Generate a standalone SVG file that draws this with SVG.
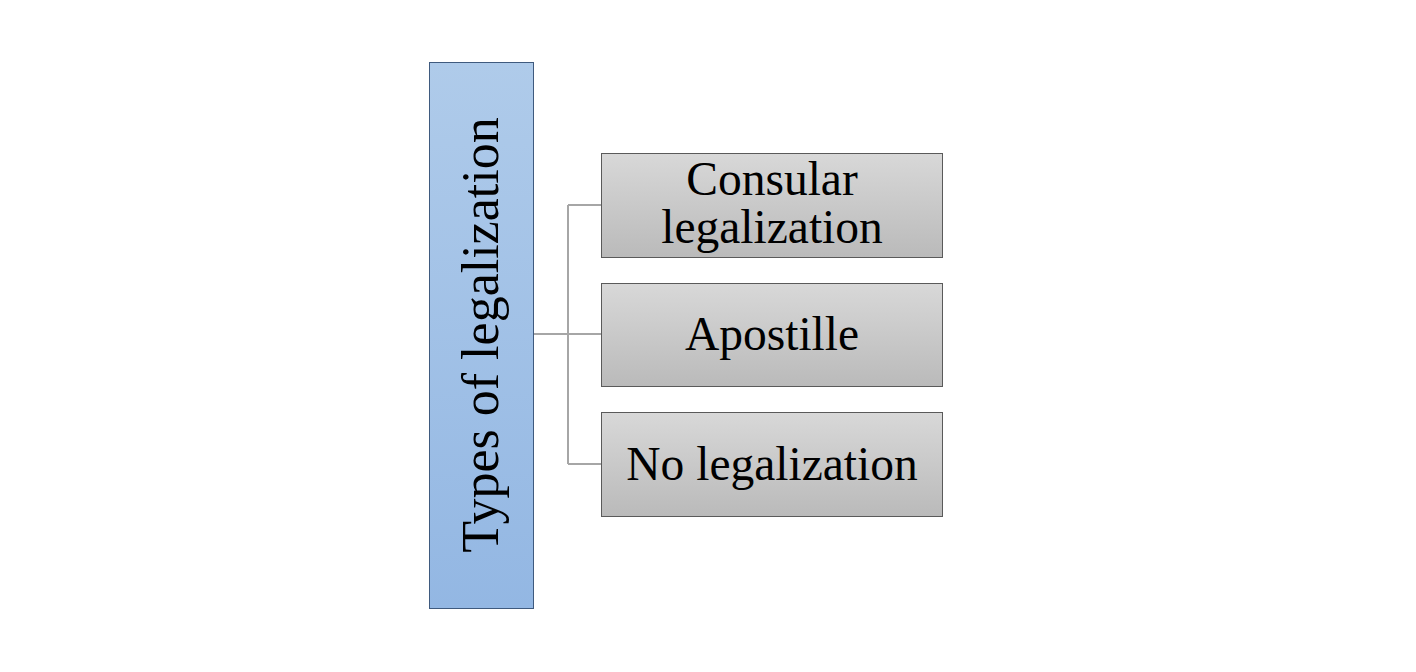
<svg xmlns="http://www.w3.org/2000/svg" width="1416" height="672" viewBox="0 0 1416 672">
<defs>
<linearGradient id="gBlue" x1="0" y1="0" x2="0" y2="1"><stop offset="0" stop-color="#afcbea"/><stop offset="1" stop-color="#93b7e3"/></linearGradient>
<linearGradient id="gGray" x1="0" y1="0" x2="0" y2="1"><stop offset="0" stop-color="#d8d8d8"/><stop offset="1" stop-color="#bababa"/></linearGradient>
</defs>
<style>
.t{font-family:"Liberation Serif","Times New Roman",serif;fill:#000;text-anchor:middle}
.box{fill:url(#gGray);stroke:#5a5a5a;stroke-width:1}
.con{fill:none;stroke:#a6a6a6;stroke-width:2}
</style>
<rect width="1416" height="672" fill="#fff"/>
<g id="connectors">
<path class="con" d="M533,334 H601 M568,205 V464 M568,205 H601 M568,464 H601"/>
</g>
<g id="root">
<rect x="429.5" y="62.5" width="104" height="546" fill="url(#gBlue)" stroke="#3f5a7e" stroke-width="1"/>
<text class="t" font-size="52" transform="translate(498,335) rotate(-90)">Types of legalization</text>
</g>
<g id="consular">
<rect class="box" x="601.5" y="153.5" width="341" height="104"/>
<text class="t" font-size="47.5" x="772" y="195">Consular</text>
<text class="t" font-size="47.5" x="772" y="243">legalization</text>
</g>
<g id="apostille">
<rect class="box" x="601.5" y="283.5" width="341" height="103"/>
<text class="t" font-size="47.5" x="772" y="350">Apostille</text>
</g>
<g id="nolegal">
<rect class="box" x="601.5" y="412.5" width="341" height="104"/>
<text class="t" font-size="47.5" x="772" y="480">No legalization</text>
</g>
</svg>
